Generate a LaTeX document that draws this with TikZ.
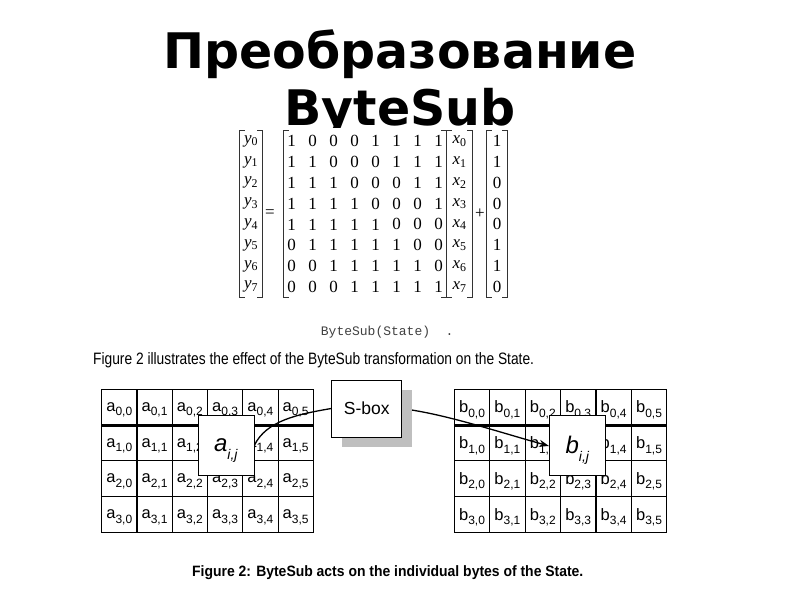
\documentclass[tikz,border=0pt]{standalone}
\usepackage{fontspec}
\setmainfont{Liberation Sans}
\newfontfamily\titlefont{DejaVu Sans}
\newfontfamily\matfont{Liberation Serif}
\newfontfamily\codefont{Liberation Mono}
\usetikzlibrary{matrix,shadows,arrows.meta}

\newcommand\cellsub[2]{#1\raisebox{-4.5pt}[0pt][0pt]{\fontsize{12}{12}\selectfont #2}}
\newcommand\bigsub[2]{\textit{#1}\raisebox{-8pt}[0pt][0pt]{\fontsize{14}{14}\selectfont\textit{#2}}}
\newcommand\yv[1]{\textit{y}\textsubscript{#1}}
\newcommand\xv[1]{\textit{x}\textsubscript{#1}}
\newcommand\brackets[2]{%
  \draw[brk] ([xshift=#2+5pt]#1.north west) -| ([xshift=#2]#1.south west) -- ++(5pt,0);
  \draw[brk] ([xshift=-#2-5pt]#1.north east) -| ([xshift=-#2]#1.south east) -- ++(-5pt,0);}

\begin{document}
\begin{tikzpicture}[
  x=1pt, y=-1pt,
  >={Stealth[length=10pt,width=7pt]},
  title/.style={font=\titlefont\bfseries\fontsize{49}{49}\selectfont, inner sep=0pt, anchor=base},
  mat/.style={matrix of nodes, inner sep=0pt, row sep=0pt, column sep=0pt,
    nodes={inner sep=0pt, anchor=center, minimum height=20.8pt,
      font=\matfont\fontsize{17}{17}\selectfont}},
  op/.style={font=\matfont\fontsize{17}{17}\selectfont, inner sep=0pt},
  brk/.style={line width=1.2pt, black!80},
  cell/.style={draw, line width=0.9pt, minimum width=35.3pt, minimum height=35.75pt,
    inner sep=0pt, font=\fontsize{16.5}{16.5}\selectfont},
  bigcell/.style={draw, line width=1pt, fill=white, minimum width=56pt, minimum height=60pt,
    inner sep=0pt, font=\fontsize{24}{24}\selectfont},
  sboxst/.style={draw, line width=1pt, fill=white, minimum width=70pt, minimum height=57pt,
    font=\fontsize{17.5}{17.5}\selectfont,
    drop shadow={shadow xshift=10pt, shadow yshift=-10pt, fill=black!25, opacity=1}},
  link/.style={line width=1.3pt}
  ]
  \useasboundingbox (0,0) rectangle (800,600);

  % title
  \node[title] (t1) at (400,68)  {Преобразование};
  \node[title] (t2) at (400,125) {ByteSub};

  % affine map
  \fill[white] (228,128) rectangle (520,300);
  \matrix (Y) [mat, nodes={minimum width=22pt}] at (251,214) {
    \yv0 \\ \yv1 \\ \yv2 \\ \yv3 \\ \yv4 \\ \yv5 \\ \yv6 \\ \yv7 \\ };
  \node[op] (eq) at (270,214) {=};
  \matrix (A) [mat, nodes={minimum width=21pt}] at (365,214) {
    1 & 0 & 0 & 0 & 1 & 1 & 1 & 1 \\
    1 & 1 & 0 & 0 & 0 & 1 & 1 & 1 \\
    1 & 1 & 1 & 0 & 0 & 0 & 1 & 1 \\
    1 & 1 & 1 & 1 & 0 & 0 & 0 & 1 \\
    1 & 1 & 1 & 1 & 1 & 0 & 0 & 0 \\
    0 & 1 & 1 & 1 & 1 & 1 & 0 & 0 \\
    0 & 0 & 1 & 1 & 1 & 1 & 1 & 0 \\
    0 & 0 & 0 & 1 & 1 & 1 & 1 & 1 \\ };
  \matrix (X) [mat, nodes={minimum width=25pt}] at (459.5,214) {
    \xv0 \\ \xv1 \\ \xv2 \\ \xv3 \\ \xv4 \\ \xv5 \\ \xv6 \\ \xv7 \\ };
  \node[op] (plus) at (480,214) {+};
  \matrix (C) [mat, nodes={minimum width=20pt}] at (497,214) {
    1 \\ 1 \\ 0 \\ 0 \\ 0 \\ 1 \\ 1 \\ 0 \\ };
  \brackets{Y}{0pt}
  \brackets{A}{3pt}
  \brackets{X}{0pt}
  \brackets{C}{0pt}

  \node[anchor=base west, inner sep=0pt, text=black!75] (call) at (320.7,335.7)
    {\codefont\fontsize{13}{13}\selectfont ByteSub(State)~~.};
  \node[anchor=base west, inner sep=0pt] (intro) at (93,364)
    {\scalebox{0.835}[1]{\fontsize{16.5}{16.5}\selectfont Figure 2 illustrates the effect of the ByteSub transformation on the State.}};

  % the two states
  \foreach \r in {0,...,3}
    \foreach \c in {0,...,5} {
      \node[cell] (a-\r-\c) at ({119.3+35.27*\c},{406.9+35.75*\r}) {\cellsub{a}{\r,\c}};
      \node[cell] (b-\r-\c) at ({472+35.4*\c},{406.9+35.75*\r}) {\cellsub{b}{\r,\c}};
    }
  \draw[line width=2.6pt] (a-0-0.south west) -- (a-0-5.south east);
  \draw[line width=2.6pt] (b-0-0.south west) -- (b-0-5.south east);

  \node[bigcell] (aij) at (226,445)   {\bigsub{a}{i,j}};
  \node[bigcell] (bij) at (577.5,445) {\bigsub{b}{i,j}};
  \node[sboxst]  (sbox) at (366.7,408.5) {S-box};

  \draw[link] (aij.east) .. controls +(12,-24) and +(-35,6) .. (sbox.west);
  \draw[link,->,shorten <=10pt] (sbox.east) .. controls +(50,8) and +(-50,-14) .. ([yshift=-1pt]bij.west);

  \node[anchor=base west, inner sep=0pt] (caption) at (192,576)
    {\scalebox{0.93}[1]{\bfseries\fontsize{15}{15}\selectfont Figure 2: ByteSub acts on the individual bytes of the State.}};
\end{tikzpicture}
\end{document}
